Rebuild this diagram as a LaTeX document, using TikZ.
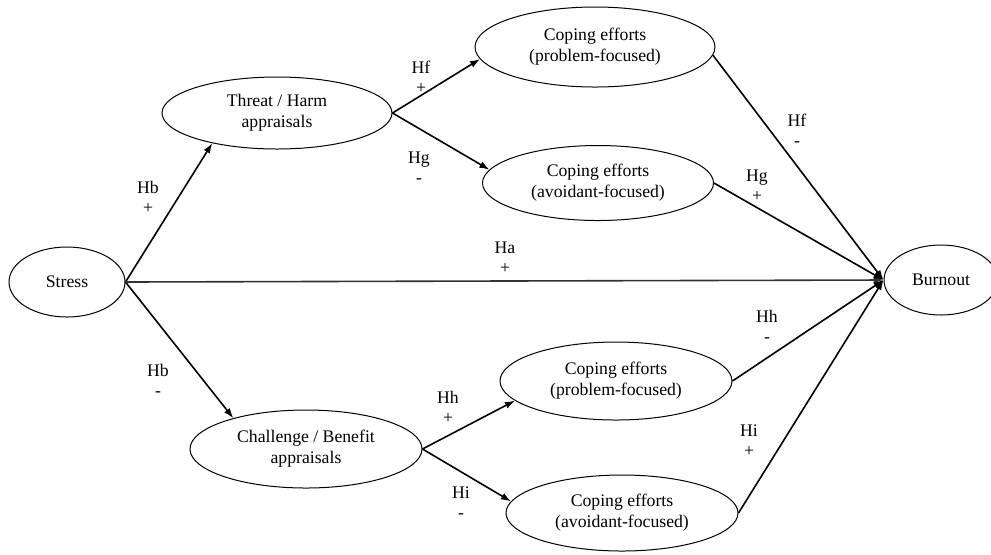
\documentclass[tikz,border=0pt]{standalone}
\usepackage{fontspec}
\setmainfont{Liberation Serif}
\usepackage{tikz}
\usetikzlibrary{shapes.geometric, arrows.meta}

\begin{document}
\begin{tikzpicture}[x=0.5pt, y=-0.5pt,
  var/.style={draw, ellipse, line width=0.5pt, inner sep=0pt, align=center,
    minimum width=116pt, minimum height=38pt, font=\fontsize{8.85}{10.5}\selectfont},
  small/.style={minimum width=58pt, minimum height=35pt},
  link/.style={-{Latex[length=5pt, width=3.6pt]}, line width=0.8pt},
  hyp/.style={align=center, inner sep=0pt, font=\fontsize{8.85}{10}\selectfont}]

  \useasboundingbox (0, 0) rectangle (991, 554);

  % constructs
  \node[var, small] (stress) at (67, 282) {Stress};
  \node[var, small, minimum width=57pt] (burnout) at (941, 280) {Burnout};

  \node[var, minimum width=115pt, minimum height=36pt] (threat) at (277, 113) {Threat / Harm\\appraisals};
  \node[var, minimum width=120pt, minimum height=40pt] (probA) at (595, 47) {Coping efforts\\(problem-focused)};
  \node[var, minimum width=115.5pt, minimum height=37.5pt] (avoidA) at (598, 183) {Coping efforts\\(avoidant-focused)};

  \node[var, minimum height=39pt] (challenge) at (306, 449) {Challenge / Benefit\\appraisals};
  \node[var, minimum height=39pt] (probB) at (616, 381) {Coping efforts\\(problem-focused)};
  \node[var] (avoidB) at (622, 513) {Coping efforts\\(avoidant-focused)};

  % paths
  \draw[link] (stress.east) -- (threat.205);
  \draw[link] (stress.east) -- (challenge.157);
  \draw[link, draw=black!80] (stress.east) -- (burnout.west);

  \draw[link] (threat.east) -- (probA.186);
  \draw[link] (threat.east) -- (avoidA.173);
  \draw[link] (probA.356) -- (burnout.west);
  \draw[link] (avoidA.east) -- (burnout.west);

  \draw[link] (challenge.east) -- (probB.191);
  \draw[link] (challenge.east) -- (avoidB.174);
  \draw[link] (probB.east) -- (burnout.west);
  \draw[link] (avoidB.east) -- (burnout.west);

  % hypotheses
  \node[hyp] (hbUp) at (148, 197) {Hb\\+};
  \node[hyp] (hbLow) at (158, 380) {Hb\\-};
  \node[hyp] (ha) at (505, 258) {Ha\\+};
  \node[hyp] (hfIn) at (421, 77) {Hf\\+};
  \node[hyp] (hgIn) at (419, 168) {Hg\\-};
  \node[hyp] (hfOut) at (797, 130) {Hf\\-};
  \node[hyp] (hgOut) at (757, 186) {Hg\\+};
  \node[hyp] (hhIn) at (448, 407) {Hh\\+};
  \node[hyp] (hiIn) at (461, 503) {Hi\\-};
  \node[hyp] (hhOut) at (767, 326) {Hh\\-};
  \node[hyp] (hiOut) at (749, 441) {Hi\\+};

\end{tikzpicture}
\end{document}
